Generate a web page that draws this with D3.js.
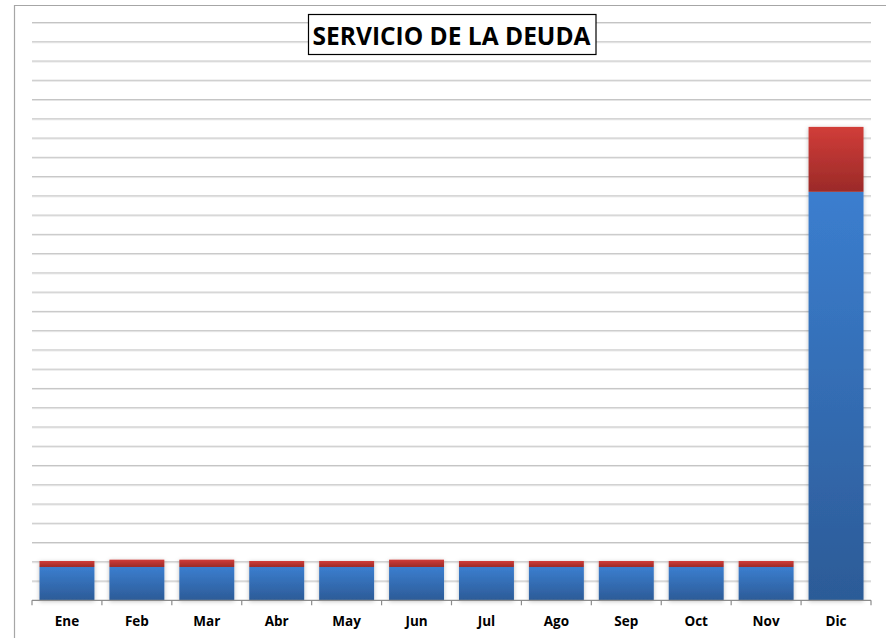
<!DOCTYPE html>
<html>
<head>
<meta charset="utf-8">
<script src="https://cdn.jsdelivr.net/npm/d3@7"></script>
<style>
  body { margin: 0; background: #fff; }
  svg { display: block; }
</style>
</head>
<body>
<div id="chart"></div>
<script>
// data (units = one gridline step)
var months = ["Ene", "Feb", "Mar", "Abr", "May", "Jun", "Jul", "Ago", "Sep", "Oct", "Nov", "Dic"];
var capital = [1.73, 1.73, 1.73, 1.73, 1.73, 1.73, 1.73, 1.73, 1.73, 1.73, 1.73, 21.21];
var intereses = [0.31, 0.38, 0.38, 0.31, 0.31, 0.38, 0.31, 0.31, 0.31, 0.31, 0.31, 3.37];
var yTicks = d3.range(0, 31, 1);

var svgWidth = 886, svgHeight = 638;
var margin = { top: 22.5, right: 15, bottom: 37.7, left: 32 };
var width = svgWidth - margin.left - margin.right;
var height = svgHeight - margin.top - margin.bottom;

var svg = d3.select("#chart").append("svg")
    .attr("width", svgWidth)
    .attr("height", svgHeight);

var defs = svg.append("defs");

var blueGrad = defs.append("linearGradient").attr("id", "blueGrad")
    .attr("x1", 0).attr("y1", 0).attr("x2", 0).attr("y2", 1);
blueGrad.append("stop").attr("offset", "0%").attr("stop-color", "#3b7ecf");
blueGrad.append("stop").attr("offset", "100%").attr("stop-color", "#2c5b97");

var redGrad = defs.append("linearGradient").attr("id", "redGrad")
    .attr("x1", 0).attr("y1", 0).attr("x2", 0).attr("y2", 1);
redGrad.append("stop").attr("offset", "0%").attr("stop-color", "#d13d39");
redGrad.append("stop").attr("offset", "100%").attr("stop-color", "#9b2a28");

var shadow = defs.append("filter").attr("id", "shadow")
    .attr("x", "-20%").attr("y", "-20%").attr("width", "140%").attr("height", "140%");
shadow.append("feDropShadow")
    .attr("dx", 0).attr("dy", 1).attr("stdDeviation", 2)
    .attr("flood-color", "#000").attr("flood-opacity", 0.25);

// outer chart border
svg.append("path")
    .attr("d", "M14.5," + svgHeight + " V5.5 H" + svgWidth)
    .attr("fill", "none")
    .attr("stroke", "#a6a6a6")
    .attr("stroke-width", 1.2);

var chartGroup = svg.append("g")
    .attr("transform", `translate(${margin.left}, ${margin.top})`);

var x = d3.scaleBand()
    .domain(months)
    .range([0, width])
    .paddingInner(0.214)
    .paddingOuter(0.107);

var y = d3.scaleLinear()
    .domain([0, 30])
    .range([height, 0]);

// gridlines
var grid = chartGroup.append("g");
grid.selectAll("line.g2")
    .data(yTicks.slice(1))
    .enter()
    .append("line")
    .attr("x1", 0).attr("x2", width)
    .attr("y1", d => y(d) + 1).attr("y2", d => y(d) + 1)
    .attr("stroke", "#e6e6e6")
    .attr("stroke-width", 1);
grid.selectAll("line.g1")
    .data(yTicks.slice(1))
    .enter()
    .append("line")
    .attr("x1", 0).attr("x2", width)
    .attr("y1", d => y(d)).attr("y2", d => y(d))
    .attr("stroke", "#c4c4c4")
    .attr("stroke-width", 1);

// stacked bars
var bars = chartGroup.selectAll(".bar")
    .data(months)
    .enter()
    .append("g")
    .attr("filter", "url(#shadow)");

bars.append("rect")
    .attr("x", d => x(d))
    .attr("width", x.bandwidth())
    .attr("y", (d, i) => y(capital[i]))
    .attr("height", (d, i) => height - y(capital[i]))
    .attr("fill", "url(#blueGrad)");

bars.append("rect")
    .attr("x", d => x(d))
    .attr("width", x.bandwidth())
    .attr("y", (d, i) => y(capital[i] + intereses[i]))
    .attr("height", (d, i) => y(capital[i]) - y(capital[i] + intereses[i]))
    .attr("fill", "url(#redGrad)");

// x axis
var step = x.step();
var axis = chartGroup.append("g")
    .attr("transform", `translate(0, ${height})`);
axis.append("line")
    .attr("x1", 0).attr("x2", width)
    .attr("y1", 0).attr("y2", 0)
    .attr("stroke", "#8c8c8c")
    .attr("stroke-width", 1.2);
axis.selectAll("line.tick")
    .data(d3.range(0, months.length + 1))
    .enter()
    .append("line")
    .attr("x1", d => d * step).attr("x2", d => d * step)
    .attr("y1", 0).attr("y2", 5)
    .attr("stroke", "#8c8c8c")
    .attr("stroke-width", 1.2);
axis.selectAll("text")
    .data(months)
    .enter()
    .append("text")
    .attr("x", d => x(d) + x.bandwidth() / 2)
    .attr("y", 26)
    .attr("text-anchor", "middle")
    .attr("font-family", "'Open Sans', 'Noto Sans', sans-serif")
    .attr("font-weight", "bold")
    .attr("font-size", "13.5px")
    .attr("fill", "#000")
    .text(d => d);

// title with box
var titleBox = svg.append("rect")
    .attr("x", 308.5).attr("y", 14.5)
    .attr("width", 287.5).attr("height", 40)
    .attr("fill", "#fff")
    .attr("stroke", "#000")
    .attr("stroke-width", 1.2);

var title = svg.append("text")
    .attr("x", margin.left + width / 2)
    .attr("y", 45)
    .attr("text-anchor", "middle")
    .attr("font-family", "'Open Sans', 'Noto Sans', sans-serif")
    .attr("font-weight", "bold")
    .attr("font-size", "25px")
    .attr("fill", "#000")
    .text("SERVICIO DE LA DEUDA");

var tw = title.node().getComputedTextLength();
if (tw > 0) {
    title.attr("font-size", (25 * 278 / tw) + "px");
}
</script>
</body>
</html>
